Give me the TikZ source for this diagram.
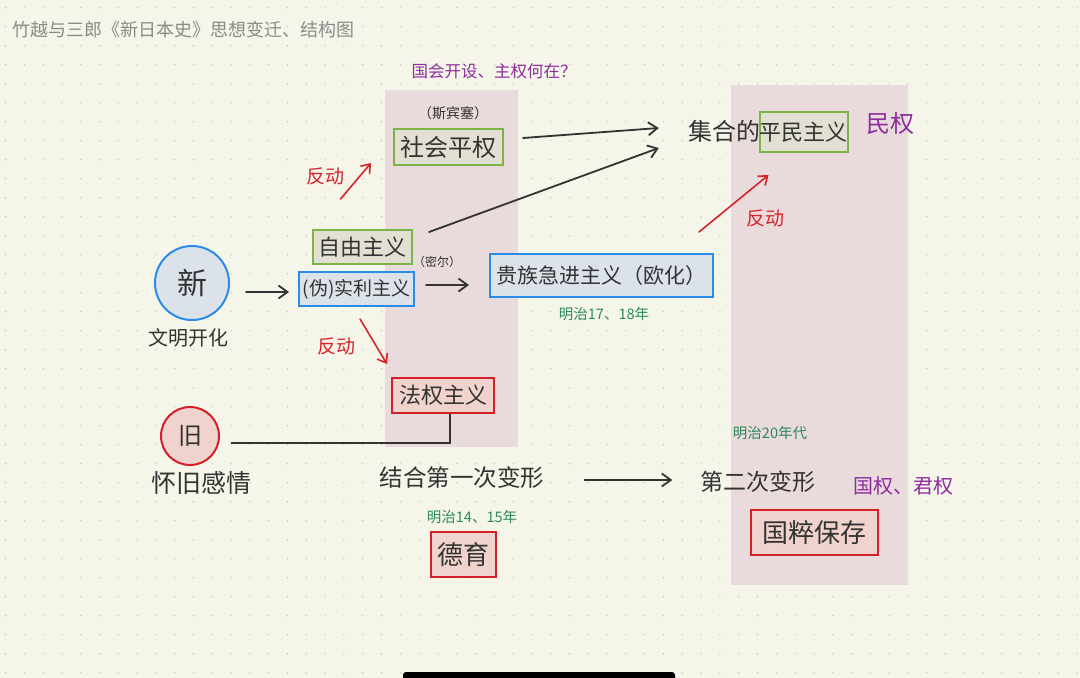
\documentclass[tikz,border=0pt]{standalone}
\usepackage{fontspec}
\setmainfont{Noto Sans CJK SC}
\usetikzlibrary{arrows.meta,calc}
\definecolor{bg}{HTML}{F6F5EA}
\definecolor{dotc}{HTML}{C9C9C0}
\definecolor{band}{HTML}{E9DADB}
\definecolor{ink}{HTML}{333333}
\definecolor{titlec}{HTML}{8A8A88}
\definecolor{gline}{HTML}{7DB347}
\definecolor{gfill}{HTML}{E2E0D2}
\definecolor{bline}{HTML}{2A8BE8}
\definecolor{bfill}{HTML}{DCE2EA}
\definecolor{rline}{HTML}{D3202B}
\definecolor{rfill}{HTML}{F0D3CD}
\definecolor{purp}{HTML}{8E2C9E}
\definecolor{grn}{HTML}{2B8A5C}
\definecolor{redink}{HTML}{D8232A}
\begin{document}
\begin{tikzpicture}[x=1pt,y=-1pt,
  fs/.style={font=\fontsize{#1}{#1}\selectfont},
  txt/.style={text=ink,inner sep=0pt},
  gbox/.style={draw=gline,line width=2pt,fill=gfill,text=ink,inner sep=0pt},
  bbox/.style={draw=bline,line width=2pt,fill=bfill,text=ink,inner sep=0pt},
  rbox/.style={draw=rline,line width=2pt,fill=rfill,text=ink,inner sep=0pt},
  arr/.style={draw=ink,line width=1.8pt,-{Straight Barb[length=9pt,width=13pt,line width=1.8pt]},line cap=round},
  rarr/.style={draw=redink,line width=1.6pt,-{Straight Barb[length=8pt,width=12pt,line width=1.6pt]},line cap=round},
  purtxt/.style={text=purp,inner sep=0pt},
  grtxt/.style={text=grn,inner sep=0pt},
  redtxt/.style={text=redink,inner sep=0pt}]
\useasboundingbox (0,0) rectangle (1080,678);
\fill[bg] (0,0) rectangle (1080,678);
% dot grid
\foreach \i in {0,...,57}{
  \foreach \j in {0,...,35}{
    \fill[dotc] (5.5+18.8*\i,7.7+19*\j) circle (0.8);
  }
}
% pink bands
\fill[band] (385,90) rectangle (518,447);
\fill[band] (731,85) rectangle (908,585);
% title
\node[fs=18,text=titlec,inner sep=0pt,anchor=west] (title) at (12,30) {竹越与三郎《新日本史》思想变迁、结构图};
% top labels
\node[purtxt,fs=16.5] (q) at (494,71) {国会开设、主权何在？};
\node[txt,fs=14] (spencer) at (453,113) {（斯宾塞）};
\node[gbox,fs=24,minimum width=109,minimum height=36] (shehui) at (448.5,147) {社会平权};
\node[txt,fs=24] (jihe) at (724,131) {集合的};
\node[gbox,fs=22,minimum width=87,minimum height=40] (pingmin) at (803.5,132) {平民主义};
\node[purtxt,fs=24] (minquan) at (890,123) {民权};
% middle
\node[gbox,fs=22,minimum width=99,minimum height=34] (ziyou) at (362.5,247) {自由主义};
\node[bbox,fs=19,minimum width=115,minimum height=34] (shili) at (356.5,289) {(伪)实利主义};
\node[txt,fs=12] (mill) at (437,262) {（密尔）};
\node[circle,draw=bline,line width=2pt,fill=bfill,minimum size=74,inner sep=0pt,text=ink,fs=30] (xin) at (192,283) {新};
\node[txt,fs=20] (wenming) at (188,338) {文明开化};
\node[bbox,fs=21,minimum width=223,minimum height=43] (guizu) at (601.5,275.5) {贵族急进主义（欧化）};
\node[grtxt,fs=14.5] (m1718) at (604,314) {明治17、18年};
\node[redtxt,fs=19] (fd1) at (325,176) {反动};
\node[redtxt,fs=19] (fd2) at (336,346) {反动};
\node[redtxt,fs=19] (fd3) at (765,218) {反动};
\node[rbox,fs=22,minimum width=102,minimum height=35] (faquan) at (443,395.5) {法权主义};
% bottom
\node[circle,draw=rline,line width=2pt,fill=rfill,minimum size=58,inner sep=0pt,text=ink,fs=24] (jiu) at (190,436) {旧};
\node[txt,fs=25] (huaijiu) at (201,483) {怀旧感情};
\node[txt,fs=23.5] (jiehe) at (462,478) {结合第一次变形};
\node[txt,fs=23] (dier) at (758,482) {第二次变形};
\node[grtxt,fs=14.5] (m20) at (770,433) {明治20年代};
\node[purtxt,fs=20] (guoquan) at (903,486) {国权、君权};
\node[grtxt,fs=14.5] (m1415) at (472,517) {明治14、15年};
\node[rbox,fs=26,minimum width=65,minimum height=45] (deyu) at (463.5,554.5) {德育};
\node[rbox,fs=26,minimum width=127,minimum height=45] (guocui) at (814.5,532.5) {国粹保存};
% black arrows
\draw[arr] ([shift={(19,-9)}]shehui.east) -- ([shift={(-29,-3)}]jihe.west);
\draw[arr] ([shift={(16,-15)}]ziyou.east) -- ([shift={(-29,17)}]jihe.west);
\draw[arr] ([shift={(16,9)}]xin.east) -- ([shift={(-9,3)}]shili.west);
\draw[arr] ([shift={(11,-4)}]shili.east) -- ([shift={(-20,9.5)}]guizu.west);
\draw[arr] ([shift={(40,2)}]jiehe.east) -- ([shift={(-28,-2)}]dier.west);
\draw[draw=ink,line width=1.8pt] ([shift={(11,7)}]jiu.east) -| ([shift={(7,0)}]faquan.south);
% red arrows
\draw[rarr] ([shift={(-22,-30)}]ziyou.north) -- ([shift={(-22,-3)}]shehui.south west);
\draw[rarr] ([shift={(3.5,12)}]shili.south) -- ([shift={(-4,-13)}]faquan.north west);
\draw[rarr] ([shift={(-15,-21)}]guizu.north east) -- ([shift={(10,22)}]pingmin.south west);
% bottom bar
\fill[black, rounded corners=3pt] (403,672) rectangle (675,686);
\end{tikzpicture}
\end{document}
